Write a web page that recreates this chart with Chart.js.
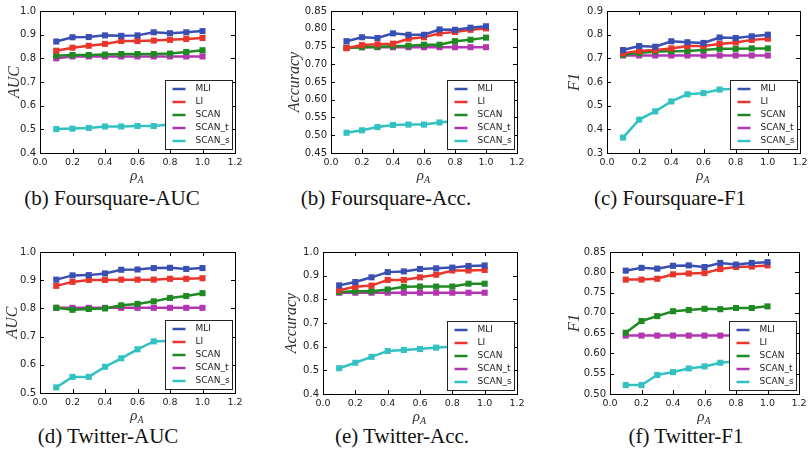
<!doctype html>
<html lang="en">
<head>
    <meta charset="utf-8">
    <title>Foursquare / Twitter results</title>
    <script src="https://cdn.jsdelivr.net/npm/chart.js"></script>
    <style>
        body {
            background-color: #ffffff;
            margin: 0;
            padding: 0;
            width: 810px;
            height: 457px;
            position: relative;
            overflow: hidden;
        }
        .panel {
            position: absolute;
        }
        .caption {
            position: absolute;
            font-family: "Liberation Serif", "DejaVu Serif", serif;
            font-size: 21px;
            color: #111;
            white-space: nowrap;
            transform: translateX(-50%);
        }
    </style>
</head>
<body>
    <div class="caption" style="left:112px; top:186px">(b) Foursquare-AUC</div>
    <div class="caption" style="left:386px; top:186px">(b) Foursquare-Acc.</div>
    <div class="caption" style="left:670px; top:186px">(c) Foursquare-F1</div>
    <div class="caption" style="left:108px; top:424px">(d) Twitter-AUC</div>
    <div class="caption" style="left:402px; top:424px">(e) Twitter-Acc.</div>
    <div class="caption" style="left:686px; top:424px">(f) Twitter-F1</div>
    <script>
        // rho_A values (x axis)
        const rho = [0.1, 0.2, 0.3, 0.4, 0.5, 0.6, 0.7, 0.8, 0.9, 1.0];
        const methods = ['MLI', 'LI', 'SCAN', 'SCAN_t', 'SCAN_s'];
        const colors = ['#3a4fb2', '#e8362c', '#1f8a22', '#b236b2', '#33c1c1'];
        const xTicks = [0.0, 0.2, 0.4, 0.6, 0.8, 1.0, 1.2];

        // (b) Foursquare-AUC
        const fsAucMLI   = [0.871, 0.889, 0.890, 0.897, 0.895, 0.897, 0.910, 0.906, 0.910, 0.915];
        const fsAucLI    = [0.832, 0.845, 0.853, 0.861, 0.873, 0.873, 0.875, 0.878, 0.882, 0.886];
        const fsAucSCAN  = [0.811, 0.814, 0.814, 0.816, 0.818, 0.818, 0.818, 0.820, 0.827, 0.834];
        const fsAucSCANt = [0.800, 0.808, 0.808, 0.808, 0.808, 0.808, 0.808, 0.808, 0.808, 0.808];
        const fsAucSCANs = [0.501, 0.503, 0.506, 0.512, 0.512, 0.514, 0.514, 0.520, 0.522, 0.525];

        // (b) Foursquare-Acc.
        const fsAccMLI   = [0.765, 0.776, 0.774, 0.787, 0.783, 0.783, 0.798, 0.797, 0.803, 0.807];
        const fsAccLI    = [0.745, 0.754, 0.756, 0.758, 0.772, 0.776, 0.787, 0.791, 0.797, 0.801];
        const fsAccSCAN  = [0.746, 0.748, 0.749, 0.751, 0.752, 0.755, 0.755, 0.765, 0.769, 0.775];
        const fsAccSCANt = [0.747, 0.748, 0.748, 0.748, 0.748, 0.748, 0.748, 0.748, 0.748, 0.748];
        const fsAccSCANs = [0.507, 0.514, 0.523, 0.529, 0.530, 0.530, 0.536, 0.540, 0.545, 0.548];

        // (c) Foursquare-F1
        const fsF1MLI   = [0.735, 0.752, 0.749, 0.772, 0.768, 0.765, 0.788, 0.786, 0.793, 0.800];
        const fsF1LI    = [0.722, 0.731, 0.735, 0.742, 0.752, 0.752, 0.761, 0.767, 0.778, 0.783];
        const fsF1SCAN  = [0.715, 0.722, 0.729, 0.730, 0.731, 0.735, 0.740, 0.740, 0.742, 0.742];
        const fsF1SCANt = [0.712, 0.712, 0.712, 0.712, 0.712, 0.712, 0.712, 0.712, 0.712, 0.712];
        const fsF1SCANs = [0.365, 0.441, 0.476, 0.518, 0.548, 0.553, 0.568, 0.571, 0.575, 0.580];

        // (d) Twitter-AUC
        const twAucMLI   = [0.902, 0.917, 0.918, 0.924, 0.937, 0.938, 0.943, 0.944, 0.940, 0.943];
        const twAucLI    = [0.880, 0.894, 0.901, 0.901, 0.902, 0.902, 0.902, 0.905, 0.905, 0.907];
        const twAucSCAN  = [0.802, 0.795, 0.798, 0.800, 0.811, 0.816, 0.825, 0.837, 0.844, 0.854];
        const twAucSCANt = [0.802, 0.802, 0.802, 0.802, 0.802, 0.802, 0.802, 0.802, 0.802, 0.802];
        const twAucSCANs = [0.520, 0.557, 0.557, 0.593, 0.623, 0.655, 0.683, 0.685, 0.690, 0.700];

        // (e) Twitter-Acc.
        const twAccMLI   = [0.859, 0.873, 0.893, 0.915, 0.918, 0.928, 0.931, 0.934, 0.941, 0.943];
        const twAccLI    = [0.839, 0.853, 0.858, 0.882, 0.882, 0.893, 0.904, 0.922, 0.922, 0.924];
        const twAccSCAN  = [0.831, 0.834, 0.834, 0.842, 0.853, 0.854, 0.854, 0.854, 0.866, 0.866];
        const twAccSCANt = [0.828, 0.828, 0.828, 0.828, 0.828, 0.828, 0.828, 0.828, 0.828, 0.828];
        const twAccSCANs = [0.509, 0.532, 0.557, 0.582, 0.586, 0.590, 0.596, 0.600, 0.603, 0.606];

        // (f) Twitter-F1
        const twF1MLI   = [0.804, 0.811, 0.809, 0.816, 0.817, 0.813, 0.823, 0.819, 0.823, 0.825];
        const twF1LI    = [0.782, 0.782, 0.784, 0.795, 0.797, 0.798, 0.808, 0.813, 0.814, 0.817];
        const twF1SCAN  = [0.651, 0.680, 0.692, 0.704, 0.707, 0.710, 0.709, 0.712, 0.712, 0.716];
        const twF1SCANt = [0.644, 0.644, 0.644, 0.644, 0.644, 0.644, 0.644, 0.644, 0.644, 0.644];
        const twF1SCANs = [0.522, 0.522, 0.547, 0.554, 0.563, 0.568, 0.577, 0.581, 0.585, 0.590];

        const Y_AXIS_W = 40;   // space left of the plot box
        const X_AXIS_H = 30;   // space under the plot box
        const PAD_TOP = 6;
        const PAD_LEFT = 12;   // room for the rotated y title
        const PAD_RIGHT = 12;

        // frame, inward ticks, axis titles and the boxed legend (matplotlib look)
        const framePlugin = {
            id: 'frame',
            afterDatasetsDraw(chart, args, opts) {
                const ctx = chart.ctx;
                const a = chart.chartArea;
                const xs = chart.scales.x, ys = chart.scales.y;
                ctx.save();
                ctx.strokeStyle = '#000';
                ctx.lineWidth = 1;
                // inward tick marks on all four sides
                ctx.beginPath();
                xs.ticks.forEach(t => {
                    const px = Math.round(xs.getPixelForValue(t.value)) + 0.5;
                    ctx.moveTo(px, a.bottom); ctx.lineTo(px, a.bottom - 4);
                    ctx.moveTo(px, a.top); ctx.lineTo(px, a.top + 4);
                });
                ys.ticks.forEach(t => {
                    const py = Math.round(ys.getPixelForValue(t.value)) + 0.5;
                    ctx.moveTo(a.left, py); ctx.lineTo(a.left + 4, py);
                    ctx.moveTo(a.right, py); ctx.lineTo(a.right - 4, py);
                });
                ctx.stroke();
                ctx.strokeRect(Math.round(a.left) + 0.5, Math.round(a.top) + 0.5,
                    Math.round(a.right - a.left), Math.round(a.bottom - a.top));

                // legend box, lower right inside the plot
                const lw = 67, lh = 69;
                const lx = Math.round(a.right - 3 - lw) + 0.5;
                const ly = Math.round(a.bottom - 4 - lh) + 0.5;
                ctx.fillStyle = '#fff';
                ctx.fillRect(lx, ly, lw, lh);
                ctx.strokeStyle = '#222';
                ctx.strokeRect(lx, ly, lw, lh);
                ctx.font = '9px "DejaVu Sans", sans-serif';
                ctx.textBaseline = 'middle';
                chart.data.datasets.forEach((ds, i) => {
                    const yy = ly + 8.5 + i * 13;
                    ctx.strokeStyle = ds.borderColor;
                    ctx.lineWidth = 2.5;
                    ctx.beginPath();
                    ctx.moveTo(lx + 7, yy); ctx.lineTo(lx + 20, yy);
                    ctx.stroke();
                    ctx.fillStyle = '#222';
                    ctx.fillText(ds.label, lx + 30, yy);
                });

                // y axis title (italic serif, rotated)
                ctx.fillStyle = '#333';
                ctx.font = 'italic 16px "Liberation Serif", "DejaVu Serif", serif';
                ctx.textAlign = 'center';
                ctx.save();
                ctx.translate(a.left - opts.titleOffset, (a.top + a.bottom) / 2);
                ctx.rotate(-Math.PI / 2);
                ctx.fillText(opts.yTitle, 0, 0);
                ctx.restore();

                // x axis title: rho with subscript A
                const cx = (a.left + a.right) / 2;
                const cy = a.bottom + 23;
                ctx.font = 'italic 15px "Liberation Serif", "DejaVu Serif", serif';
                ctx.textAlign = 'right';
                ctx.fillText('\u03c1', cx, cy);
                ctx.font = 'italic 10px "Liberation Serif", "DejaVu Serif", serif';
                ctx.textAlign = 'left';
                ctx.fillText('A', cx, cy + 4);
                ctx.restore();
            }
        };

        function makePanel(p) {
            const w = (p.right - p.left) + PAD_LEFT + Y_AXIS_W + PAD_RIGHT;
            const h = (p.bottom - p.top) + PAD_TOP + X_AXIS_H;
            const box = document.createElement('div');
            box.className = 'panel';
            box.style.left = (p.left - Y_AXIS_W - PAD_LEFT) + 'px';
            box.style.top = (p.top - PAD_TOP) + 'px';
            box.style.width = w + 'px';
            box.style.height = h + 'px';
            const canvas = document.createElement('canvas');
            box.appendChild(canvas);
            document.body.appendChild(box);

            const datasets = p.series.map((vals, i) => ({
                label: methods[i],
                data: rho.map((r, k) => ({ x: r, y: vals[k] })),
                borderColor: colors[i],
                backgroundColor: colors[i],
                borderWidth: 2.5,
                pointStyle: 'rect',
                pointRadius: 4.3,
                pointBorderWidth: 0,
                tension: 0
            }));

            return new Chart(canvas.getContext('2d'), {
                type: 'line',
                data: { datasets: datasets },
                options: {
                    animation: false,
                    responsive: true,
                    maintainAspectRatio: false,
                    layout: { padding: { top: PAD_TOP, right: PAD_RIGHT, left: PAD_LEFT, bottom: 0 } },
                    plugins: {
                        legend: { display: false },
                        tooltip: { enabled: false },
                        frame: { yTitle: p.yTitle, titleOffset: p.titleOffset }
                    },
                    scales: {
                        x: {
                            type: 'linear',
                            min: 0, max: 1.2,
                            afterBuildTicks: s => { s.ticks = xTicks.map(v => ({ value: v })); },
                            afterFit: s => { s.height = X_AXIS_H; },
                            grid: { display: false, drawTicks: false },
                            border: { display: false },
                            ticks: {
                                padding: 4,
                                maxRotation: 0,
                                color: '#222',
                                font: { family: '"DejaVu Sans", sans-serif', size: 9.5 },
                                callback: v => Number(v).toFixed(1)
                            }
                        },
                        y: {
                            min: p.yMin, max: p.yMax,
                            afterBuildTicks: s => { s.ticks = p.yTicks.map(v => ({ value: v })); },
                            afterFit: s => { s.width = Y_AXIS_W; },
                            grid: { display: false, drawTicks: false },
                            border: { display: false },
                            ticks: {
                                padding: 4,
                                color: '#222',
                                font: { family: '"DejaVu Sans", sans-serif', size: 10 },
                                callback: v => Number(v).toFixed(p.dec)
                            }
                        }
                    }
                },
                plugins: [framePlugin]
            });
        }

        makePanel({
            left: 40, right: 235, top: 7, bottom: 153,
            yMin: 0.4, yMax: 1.0, yTicks: [0.4, 0.5, 0.6, 0.7, 0.8, 0.9, 1.0], dec: 1,
            yTitle: 'AUC', titleOffset: 25,
            series: [fsAucMLI, fsAucLI, fsAucSCAN, fsAucSCANt, fsAucSCANs]
        });
        makePanel({
            left: 331, right: 517, top: 7, bottom: 153,
            yMin: 0.45, yMax: 0.85, yTicks: [0.45, 0.5, 0.55, 0.6, 0.65, 0.7, 0.75, 0.8, 0.85], dec: 2,
            yTitle: 'Accuracy', titleOffset: 36,
            series: [fsAccMLI, fsAccLI, fsAccSCAN, fsAccSCANt, fsAccSCANs]
        });
        makePanel({
            left: 607, right: 800, top: 7, bottom: 153,
            yMin: 0.3, yMax: 0.9, yTicks: [0.3, 0.4, 0.5, 0.6, 0.7, 0.8, 0.9], dec: 1,
            yTitle: 'F1', titleOffset: 32,
            series: [fsF1MLI, fsF1LI, fsF1SCAN, fsF1SCANt, fsF1SCANs]
        });
        makePanel({
            left: 40, right: 235, top: 248, bottom: 393,
            yMin: 0.5, yMax: 1.0, yTicks: [0.5, 0.6, 0.7, 0.8, 0.9, 1.0], dec: 1,
            yTitle: 'AUC', titleOffset: 27,
            series: [twAucMLI, twAucLI, twAucSCAN, twAucSCANt, twAucSCANs]
        });
        makePanel({
            left: 323, right: 517, top: 248, bottom: 394,
            yMin: 0.4, yMax: 1.0, yTicks: [0.4, 0.5, 0.6, 0.7, 0.8, 0.9, 1.0], dec: 1,
            yTitle: 'Accuracy', titleOffset: 31,
            series: [twAccMLI, twAccLI, twAccSCAN, twAccSCANt, twAccSCANs]
        });
        makePanel({
            left: 610, right: 799, top: 248, bottom: 394,
            yMin: 0.5, yMax: 0.85, yTicks: [0.5, 0.55, 0.6, 0.65, 0.7, 0.75, 0.8, 0.85], dec: 2,
            yTitle: 'F1', titleOffset: 35,
            series: [twF1MLI, twF1LI, twF1SCAN, twF1SCANt, twF1SCANs]
        });
    </script>
</body>
</html>
